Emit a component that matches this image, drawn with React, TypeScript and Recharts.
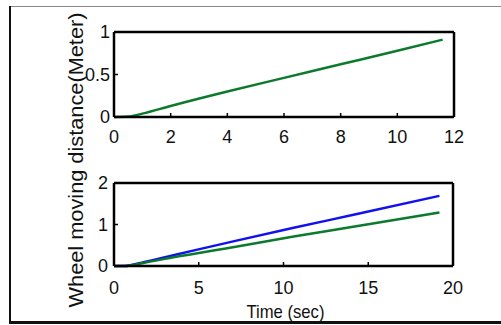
import React from "react";
import { Label, Line, LineChart, XAxis, YAxis } from "recharts";

// top panel: one wheel (both curves overlap)
const topTime = [0, 0.5, 1, 2, 4, 6, 8, 10, 11.6];
const topDistance = [0, 0.005, 0.04, 0.13, 0.3, 0.46, 0.62, 0.78, 0.91];
const topXTicks = [0, 2, 4, 6, 8, 10, 12];
const topYTicks = [0, 0.5, 1];

// bottom panel: two wheels
const bottomTime = [0, 0.6, 1.8, 3.5, 7.1, 10.6, 14.2, 19.2];
const bottomBlue = [0, 0, 0.1, 0.26, 0.6, 0.92, 1.24, 1.69];
const bottomGreen = [0, 0, 0.08, 0.21, 0.46, 0.71, 0.95, 1.29];
const bottomXTicks = [0, 5, 10, 15, 20];
const bottomYTicks = [0, 1, 2];

const topData = topTime.map((t, i) => ({ time: t, distance: topDistance[i] }));
const bottomData = bottomTime.map((t, i) => ({
  time: t,
  blue: bottomBlue[i],
  green: bottomGreen[i],
}));

const FONT = "'Liberation Sans Narrow', 'Liberation Sans', Arial, sans-serif";
const tickStyle = { fill: "#111", fontSize: 18, fontFamily: FONT };
const axisLine = { stroke: "#000", strokeWidth: 2.5 };
const tickLine = { stroke: "#000", strokeWidth: 1.5 };
const GREEN = "#0b7a2c";
const BLUE = "#1010f0";

const layer: React.CSSProperties = { position: "absolute", left: 0, top: 0 };

export default function App() {
  return (
    <div
      style={{
        position: "absolute",
        left: 0,
        top: 0,
        width: 501,
        height: 325,
        background: "#fff",
        overflow: "hidden",
      }}
    >
      {/* figure frame */}
      <div style={{ position: "absolute", left: 10, top: 6, width: 491, height: 1, background: "#888" }} />
      <div style={{ position: "absolute", left: 9, top: 6, width: 2, height: 317, background: "#111" }} />
      <div style={{ position: "absolute", left: 9, top: 321, width: 492, height: 3, background: "#111" }} />

      <div style={layer}>
        <LineChart
          width={501}
          height={325}
          data={topData}
          margin={{ top: 22, right: 37, bottom: 178, left: 64 }}
        >
          <XAxis
            xAxisId="b"
            dataKey="time"
            type="number"
            domain={[0, 12]}
            ticks={topXTicks}
            height={30}
            tickSize={-4}
            tickMargin={17}
            tick={tickStyle}
            axisLine={axisLine}
            tickLine={tickLine}
          />
          <XAxis
            xAxisId="t"
            orientation="top"
            dataKey="time"
            type="number"
            domain={[0, 12]}
            ticks={topXTicks}
            height={10}
            tickSize={-4}
            tick={false}
            axisLine={axisLine}
            tickLine={tickLine}
          />
          <YAxis
            yAxisId="l"
            type="number"
            domain={[0, 1]}
            ticks={topYTicks}
            width={50}
            tickSize={-4}
            tickMargin={8}
            tick={tickStyle}
            axisLine={axisLine}
            tickLine={tickLine}
          >
            <Label
              content={() => (
                <text
                  x={83}
                  y={160}
                  transform="rotate(-90 83 160)"
                  textAnchor="middle"
                  fontSize={20}
                  fontFamily={FONT}
                  fill="#111"
                  textLength={295}
                  lengthAdjust="spacingAndGlyphs"
                >
                  Wheel moving distance(Meter)
                </text>
              )}
            />
          </YAxis>
          <YAxis
            yAxisId="r"
            orientation="right"
            type="number"
            domain={[0, 1]}
            ticks={topYTicks}
            width={10}
            tickSize={-4}
            tick={false}
            axisLine={axisLine}
            tickLine={tickLine}
          />
          <Line
            xAxisId="b"
            yAxisId="l"
            type="monotone"
            dataKey="distance"
            stroke={GREEN}
            strokeWidth={2.5}
            dot={false}
            isAnimationActive={false}
          />
        </LineChart>
      </div>

      <div style={layer}>
        <LineChart
          width={501}
          height={325}
          data={bottomData}
          margin={{ top: 173, right: 38, bottom: 29, left: 64 }}
        >
          <XAxis
            xAxisId="b"
            dataKey="time"
            type="number"
            domain={[0, 20]}
            ticks={bottomXTicks}
            height={30}
            tickSize={-4}
            tickMargin={19}
            tick={tickStyle}
            axisLine={axisLine}
            tickLine={tickLine}
          >
            <Label
              content={(props: any) => {
                const vb = props.viewBox || { x: 114, width: 339 };
                return (
                  <text
                    x={vb.x + vb.width / 2 + 2}
                    y={318}
                    textAnchor="middle"
                    fontSize={19}
                    fontFamily={FONT}
                    fill="#111"
                    textLength={78}
                    lengthAdjust="spacingAndGlyphs"
                  >
                    Time (sec)
                  </text>
                );
              }}
            />
          </XAxis>
          <XAxis
            xAxisId="t"
            orientation="top"
            dataKey="time"
            type="number"
            domain={[0, 20]}
            ticks={bottomXTicks}
            height={10}
            tickSize={-4}
            tick={false}
            axisLine={axisLine}
            tickLine={tickLine}
          />
          <YAxis
            yAxisId="l"
            type="number"
            domain={[0, 2]}
            ticks={bottomYTicks}
            width={50}
            tickSize={-4}
            tickMargin={10}
            tick={tickStyle}
            axisLine={axisLine}
            tickLine={tickLine}
          />
          <YAxis
            yAxisId="r"
            orientation="right"
            type="number"
            domain={[0, 2]}
            ticks={bottomYTicks}
            width={10}
            tickSize={-4}
            tick={false}
            axisLine={axisLine}
            tickLine={tickLine}
          />
          <Line
            xAxisId="b"
            yAxisId="l"
            type="monotone"
            dataKey="blue"
            stroke={BLUE}
            strokeWidth={2.5}
            dot={false}
            isAnimationActive={false}
          />
          <Line
            xAxisId="b"
            yAxisId="l"
            type="monotone"
            dataKey="green"
            stroke={GREEN}
            strokeWidth={2.5}
            dot={false}
            isAnimationActive={false}
          />
        </LineChart>
      </div>
    </div>
  );
}
